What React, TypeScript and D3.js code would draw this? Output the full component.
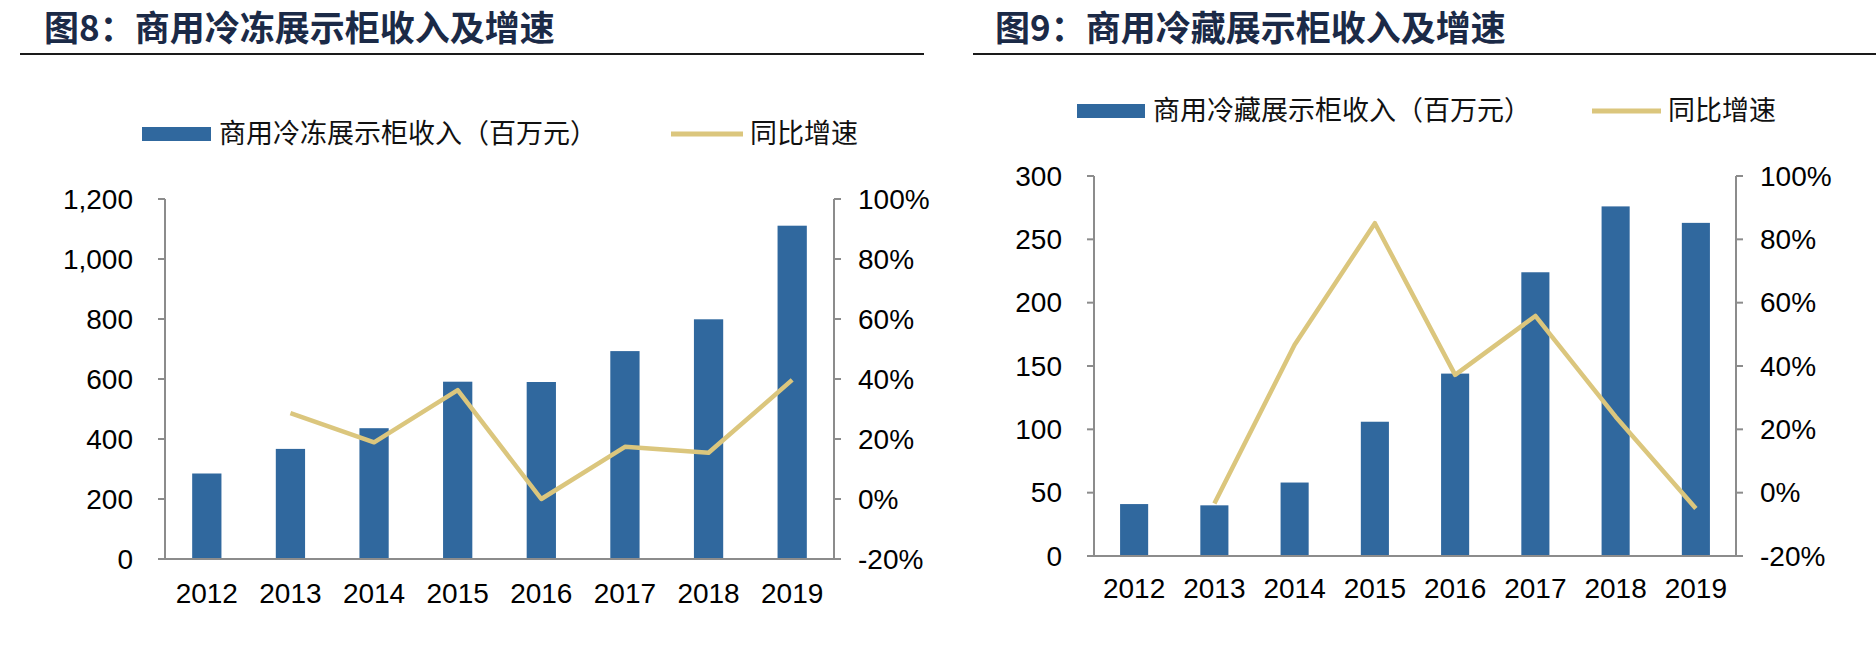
import * as d3 from 'd3';

const years = ['2012', '2013', '2014', '2015', '2016', '2017', '2018', '2019'];

// 商用冷冻展示柜收入（百万元） / 同比增速 (%)
const freezerRevenue = [285, 367, 436, 591, 590, 693, 799, 1111];
const freezerGrowth = [null, 28.6, 18.9, 36.3, 0, 17.4, 15.4, 39.7];
const freezerTicks = [0, 200, 400, 600, 800, 1000, 1200];

// 商用冷藏展示柜收入（百万元） / 同比增速 (%)
const fridgeRevenue = [41, 40, 58, 106, 144, 224, 276, 263];
const fridgeGrowth = [null, -3.4, 46.7, 85.1, 37.2, 55.8, 24, -5];
const fridgeTicks = [0, 50, 100, 150, 200, 250, 300];

const pctTicks = [-20, 0, 20, 40, 60, 80, 100];

const BAR = '#30689E';
const LINE = '#DBC67D';
const AXIS = '#8C8C8C';
const NUM_FONT = '"Liberation Sans", Arial, sans-serif';
const CJK_FONT = '"Noto Sans CJK SC", "Noto Sans", sans-serif';

type Layout = {
  titleX: number;
  ruleX0: number;
  ruleX1: number;
  left: number;
  right: number;
  top: number;
  bottom: number;
  legendY: number;
  rectX: number;
  rectW: number;
  lineX0: number;
  lineX1: number;
  labelY: number;
};

type ChartProps = {
  title: string;
  legendBar: string;
  revenue: number[];
  growth: (number | null)[];
  ticks: number[];
  layout: Layout;
};

function Chart({ title, legendBar, revenue, growth, ticks, layout: L }: ChartProps) {
  const x = d3
    .scaleBand()
    .domain(years)
    .range([L.left, L.right])
    .paddingInner(0.65)
    .paddingOuter(0.325);

  const y = d3
    .scaleLinear()
    .domain([ticks[0], ticks[ticks.length - 1]])
    .range([L.bottom, L.top]);

  const yPct = d3.scaleLinear().domain([-20, 100]).range([L.bottom, L.top]);

  const linePath = d3
    .line<[string, number | null]>()
    .defined((d) => d[1] !== null)
    .x((d) => (x(d[0]) ?? 0) + x.bandwidth() / 2)
    .y((d) => yPct(d[1] as number))(years.map((yr, i) => [yr, growth[i]]));

  return (
    <g>
      <text
        x={L.titleX}
        y={41}
        fontFamily={CJK_FONT}
        fontWeight={700}
        fontSize={35}
        fill='#1b2a47'
      >
        {title}
      </text>
      <line x1={L.ruleX0} x2={L.ruleX1} y1={54} y2={54} stroke='#1a1a1a' strokeWidth={2} />

      {/* legend */}
      <rect x={L.rectX} y={L.legendY - 7} width={L.rectW} height={14} fill={BAR} />
      <text
        x={L.rectX + L.rectW + 8}
        y={L.legendY}
        dy='0.35em'
        fontFamily={CJK_FONT}
        fontSize={27}
        fill='#111'
      >
        {legendBar}
      </text>
      <line
        x1={L.lineX0}
        x2={L.lineX1}
        y1={L.legendY}
        y2={L.legendY}
        stroke={LINE}
        strokeWidth={5}
      />
      <text
        x={L.lineX1 + 7}
        y={L.legendY}
        dy='0.35em'
        fontFamily={CJK_FONT}
        fontSize={27}
        fill='#111'
      >
        同比增速
      </text>

      {/* bars */}
      {revenue.map((v, i) => (
        <rect
          key={years[i]}
          x={x(years[i])}
          y={y(v)}
          width={x.bandwidth()}
          height={L.bottom - y(v)}
          fill={BAR}
        />
      ))}

      {/* axes */}
      <line x1={L.left} x2={L.left} y1={L.top} y2={L.bottom} stroke={AXIS} strokeWidth={2} />
      <line x1={L.right} x2={L.right} y1={L.top} y2={L.bottom} stroke={AXIS} strokeWidth={2} />
      <line x1={L.left - 7} x2={L.right + 7} y1={L.bottom} y2={L.bottom} stroke={AXIS} strokeWidth={2} />
      {ticks.map((t) => (
        <g key={'l' + t}>
          <line x1={L.left - 7} x2={L.left} y1={y(t)} y2={y(t)} stroke={AXIS} strokeWidth={2} />
          <text
            x={L.left - 32}
            y={y(t)}
            dy='0.35em'
            textAnchor='end'
            fontFamily={NUM_FONT}
            fontSize={28}
            fill='#000'
          >
            {d3.format(',')(t)}
          </text>
        </g>
      ))}
      {pctTicks.map((t) => (
        <g key={'r' + t}>
          <line x1={L.right} x2={L.right + 7} y1={yPct(t)} y2={yPct(t)} stroke={AXIS} strokeWidth={2} />
          <text
            x={L.right + 24}
            y={yPct(t)}
            dy='0.35em'
            fontFamily={NUM_FONT}
            fontSize={28}
            fill='#000'
          >
            {t + '%'}
          </text>
        </g>
      ))}
      {years.map((yr) => (
        <text
          key={yr}
          x={(x(yr) ?? 0) + x.bandwidth() / 2}
          y={L.labelY}
          dy='0.35em'
          textAnchor='middle'
          fontFamily={NUM_FONT}
          fontSize={28}
          fill='#000'
        >
          {yr}
        </text>
      ))}

      <path
        d={linePath ?? ''}
        fill='none'
        stroke={LINE}
        strokeWidth={4.5}
        strokeLinejoin='round'
      />
    </g>
  );
}

export default function App() {
  return (
    <svg
      width={1876}
      height={656}
      style={{ position: 'absolute', left: 0, top: 0, background: '#fff' }}
    >
      <rect width={1876} height={656} fill='#fff' />
      <Chart
        title='图8：商用冷冻展示柜收入及增速'
        legendBar='商用冷冻展示柜收入（百万元）'
        revenue={freezerRevenue}
        growth={freezerGrowth}
        ticks={freezerTicks}
        layout={{
          titleX: 44,
          ruleX0: 20,
          ruleX1: 924,
          left: 165,
          right: 834,
          top: 199,
          bottom: 559,
          legendY: 134,
          rectX: 142,
          rectW: 69,
          lineX0: 671,
          lineX1: 743,
          labelY: 593,
        }}
      />
      <Chart
        title='图9：商用冷藏展示柜收入及增速'
        legendBar='商用冷藏展示柜收入（百万元）'
        revenue={fridgeRevenue}
        growth={fridgeGrowth}
        ticks={fridgeTicks}
        layout={{
          titleX: 995,
          ruleX0: 973,
          ruleX1: 1876,
          left: 1094,
          right: 1736,
          top: 176,
          bottom: 556,
          legendY: 111,
          rectX: 1077,
          rectW: 68,
          lineX0: 1592,
          lineX1: 1661,
          labelY: 588,
        }}
      />
    </svg>
  );
}
